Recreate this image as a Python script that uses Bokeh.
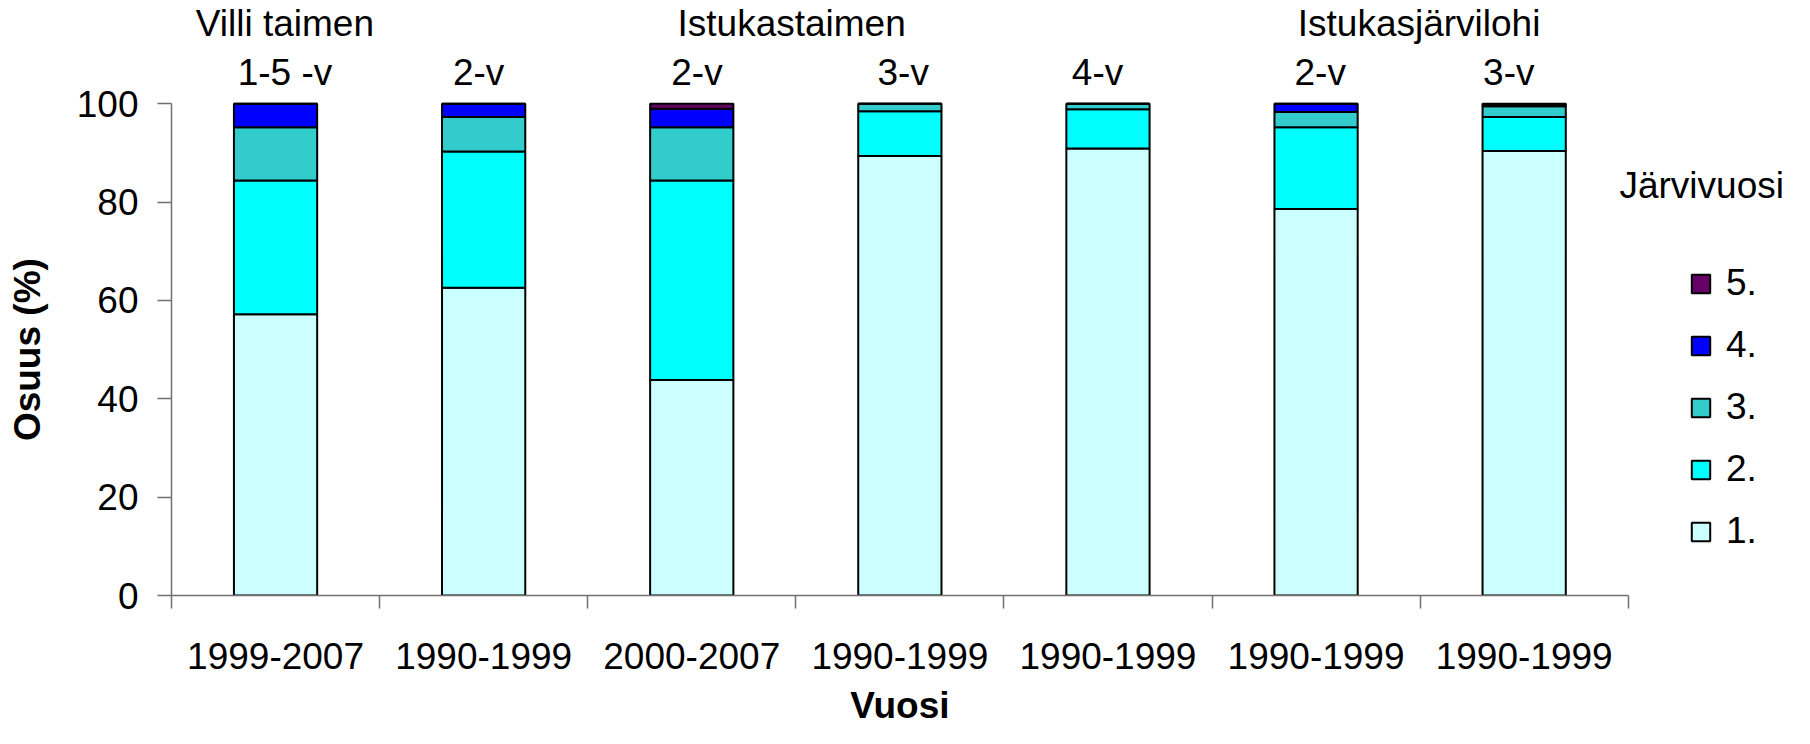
from bokeh.plotting import figure
from bokeh.models import (ColumnDataSource, Range1d, FixedTicker, Legend, LegendItem, Label,
                          LinearAxis)
from bokeh.embed import file_html
from bokeh.resources import INLINE

# ---- data ----
periods = ["1999-2007", "1990-1999", "2000-2007", "1990-1999", "1990-1999", "1990-1999", "1990-1999"]
age_labels = ["1-5 -v", "2-v", "2-v", "3-v", "4-v", "2-v", "3-v"]
group_labels = ["Villi taimen", "Istukastaimen", "Istukasjärvilohi"]
jarvivuosi = ["1.", "2.", "3.", "4.", "5."]
osuus_1 = [57.2, 62.6, 43.8, 89.4, 90.9, 78.6, 90.4]
osuus_2 = [27.2, 27.7, 40.6, 9.1, 8.0, 16.6, 6.9]
osuus_3 = [10.8, 7.0, 10.8, 1.5, 1.1, 3.1, 2.2]
osuus_4 = [4.8, 2.7, 3.8, 0.0, 0.0, 1.7, 0.3]
osuus_5 = [0.0, 0.0, 1.0, 0.0, 0.0, 0.0, 0.2]
y_ticks = [0, 20, 40, 60, 80, 100]
x_title = "Vuosi"
y_title = "Osuus (%)"
legend_title = "Järvivuosi"

colors = ["#CCFFFF", "#00FFFF", "#33CCCC", "#0000FF", "#660066"]
FONT = "Liberation Sans"
FS = "37px"
AXIS_COLOR = "#707070"

n = len(periods)
xs = [i + 0.5 for i in range(n)]
keys = ["s1", "s2", "s3", "s4", "s5"]
src = ColumnDataSource(dict(x=xs, s1=osuus_1, s2=osuus_2, s3=osuus_3, s4=osuus_4, s5=osuus_5))

p = figure(width=1794, height=728, output_backend="svg", toolbar_location=None,
           x_range=Range1d(0, 7.751), y_range=Range1d(0, 121.0),
           min_border_left=171, min_border_right=10, min_border_top=0, min_border_bottom=130)
p.outline_line_color = None
p.grid.visible = False
p.background_fill_color = "white"
p.border_fill_color = "white"

rs = p.vbar_stack(keys, x="x", width=0.40, source=src, fill_color=colors,
                  line_color="black", line_width=2)

# x axis (category labels, separators at category boundaries)
xa = p.xaxis[0]
xa.ticker = FixedTicker(ticks=xs, minor_ticks=list(range(n + 1)))
xa.major_label_overrides = {x: lab for x, lab in zip(xs, periods)}
xa.bounds = (0, n)
xa.major_tick_out = 0
xa.major_tick_in = 0
xa.minor_tick_out = 13
xa.minor_tick_in = 0
xa.minor_tick_line_color = AXIS_COLOR
xa.minor_tick_line_width = 1.5
xa.axis_line_color = AXIS_COLOR
xa.axis_line_width = 1.5
xa.major_label_standoff = 34

# y axis
ya = p.yaxis[0]
ya.ticker = FixedTicker(ticks=y_ticks)
ya.bounds = (0, 100)
ya.major_tick_out = 14
ya.major_tick_in = 0
ya.minor_tick_line_color = None
ya.major_tick_line_color = AXIS_COLOR
ya.major_tick_line_width = 1.5
ya.axis_line_color = AXIS_COLOR
ya.axis_line_width = 1.5
ya.major_label_standoff = 19

# axis titles as outer axes (centred on the 0-7 / 0-100 axis extents)
xa2 = LinearAxis(ticker=FixedTicker(ticks=[n / 2]), major_label_overrides={n / 2: x_title},
                 major_label_standoff=13, major_label_text_font_style="bold")
ya2 = LinearAxis(ticker=FixedTicker(ticks=[50]), major_label_overrides={50: y_title},
                 major_label_standoff=25, major_label_orientation="parallel",
                 major_label_text_font_style="bold")
for ax in (xa2, ya2):
    ax.axis_line_color = None
    ax.major_tick_line_color = None
    ax.minor_tick_line_color = None
    ax.major_tick_out = 0
    ax.major_tick_in = 0
    ax.minor_tick_out = 0
    ax.minor_tick_in = 0
p.add_layout(xa2, "below")
p.add_layout(ya2, "left")

for ax in (xa, ya, xa2, ya2):
    ax.major_label_text_font = FONT
    ax.major_label_text_font_size = FS
    ax.major_label_text_color = "black"


def add_text(x, y, txt, align="center"):
    p.add_layout(Label(x=x, y=y, text=txt, text_font=FONT, text_font_size=FS,
                       text_align=align, text_baseline="alphabetic", text_color="black"))


# labels above the bars
group_x = [0.545, 2.98, 5.995]
age_x = [0.545, 1.476, 2.525, 3.516, 4.45, 5.52, 6.426]
for gx, g in zip(group_x, group_labels):
    add_text(gx, 116.3, g)
for ax_, a in zip(age_x, age_labels):
    add_text(ax_, 106.4, a)

# legend
add_text(6.958, 83.4, legend_title, align="left")
legend = Legend(items=[LegendItem(label=jarvivuosi[i], renderers=[rs[i]]) for i in reversed(range(5))],
                location=(1518, 43), padding=0, margin=0, border_line_color=None,
                background_fill_alpha=0, glyph_width=23, glyph_height=23, label_height=23,
                label_standoff=14, spacing=20, label_text_font=FONT, label_text_font_size=FS,
                label_text_color="black")
p.add_layout(legend)

open("out.html", "w").write(file_html(p, INLINE))
